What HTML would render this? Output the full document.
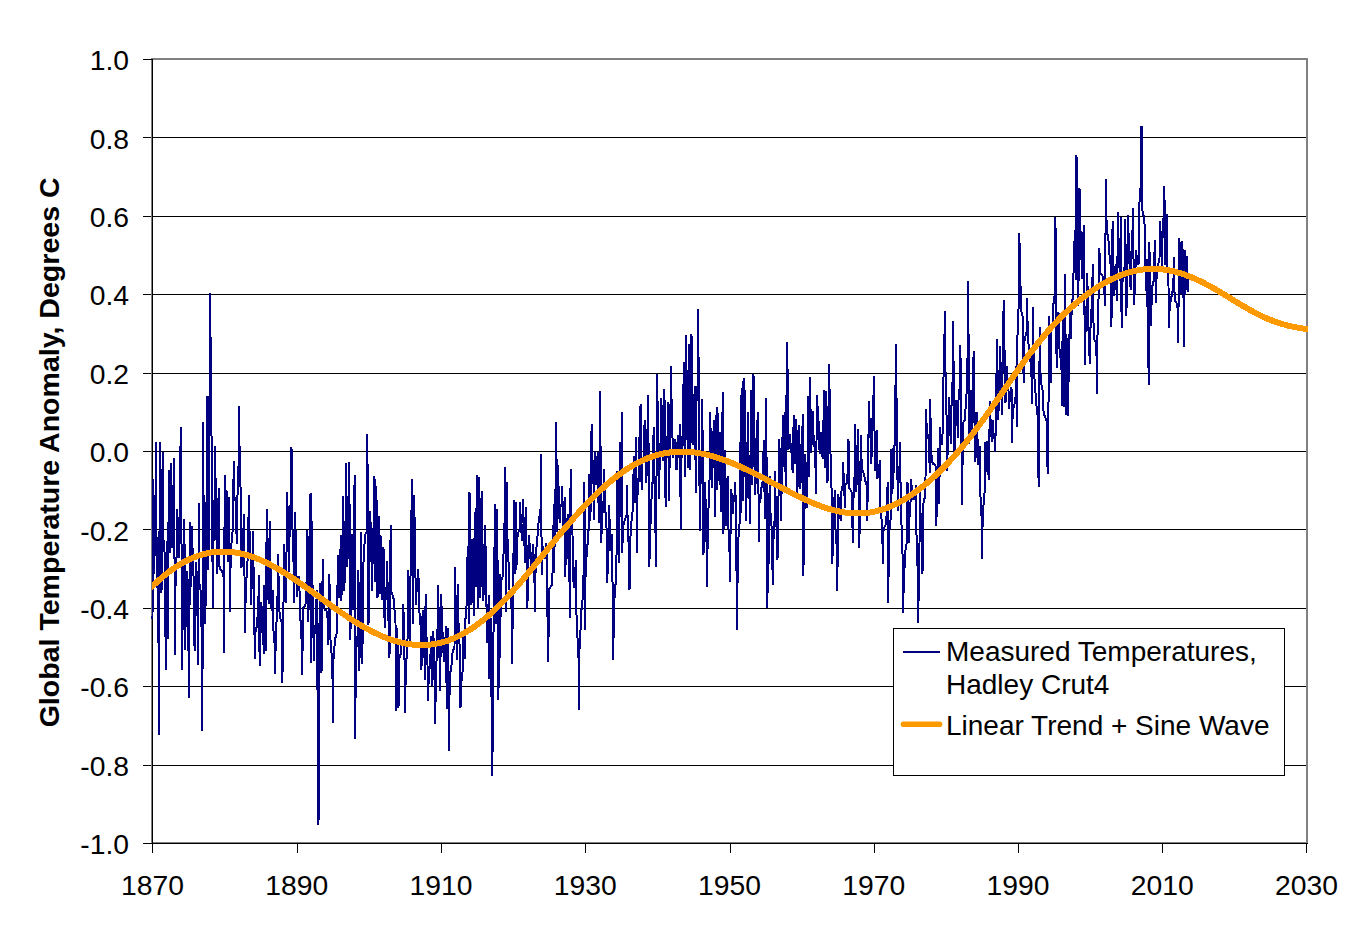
<!DOCTYPE html>
<html lang="en"><head><meta charset="utf-8"><title>Global Temperature Anomaly</title>
<style>
html,body{margin:0;padding:0;background:#fff;}
body{width:1362px;height:928px;overflow:hidden;}
svg{display:block;}
text{font-family:"Liberation Sans", Arial, Helvetica, sans-serif;fill:#000;}
</style></head><body>
<svg width="1362" height="928" viewBox="0 0 1362 928">
<rect width="1362" height="928" fill="#fff"/>
<g stroke="#000" stroke-width="1" shape-rendering="crispEdges"><line x1="143" x2="1306" y1="137.5" y2="137.5"/><line x1="143" x2="1306" y1="216.5" y2="216.5"/><line x1="143" x2="1306" y1="294.5" y2="294.5"/><line x1="143" x2="1306" y1="373.5" y2="373.5"/><line x1="143" x2="1306" y1="451.5" y2="451.5"/><line x1="143" x2="1306" y1="529.5" y2="529.5"/><line x1="143" x2="1306" y1="608.5" y2="608.5"/><line x1="143" x2="1306" y1="686.5" y2="686.5"/><line x1="143" x2="1306" y1="765.5" y2="765.5"/></g>
<rect x="152" y="59" width="1155" height="784" fill="none" stroke="#808080" stroke-width="2" shape-rendering="crispEdges"/>
<g stroke="#000" stroke-width="1" shape-rendering="crispEdges"><line x1="152.5" x2="152.5" y1="59" y2="844"/><line x1="143" x2="1308" y1="843.5" y2="843.5"/><line x1="143" x2="153" y1="59.5" y2="59.5"/><line x1="152.5" x2="152.5" y1="843" y2="853"/><line x1="297.5" x2="297.5" y1="843" y2="853"/><line x1="441.5" x2="441.5" y1="843" y2="853"/><line x1="585.5" x2="585.5" y1="843" y2="853"/><line x1="730.5" x2="730.5" y1="843" y2="853"/><line x1="874.5" x2="874.5" y1="843" y2="853"/><line x1="1018.5" x2="1018.5" y1="843" y2="853"/><line x1="1162.5" x2="1162.5" y1="843" y2="853"/><line x1="1306.5" x2="1306.5" y1="843" y2="853"/></g>
<clipPath id="pc"><rect x="152" y="40" width="1156" height="820"/></clipPath>
<path d="M152.5 618.8 L153.1 478.8 L153.7 515.7 L154.3 573.9 L154.9 522.7 L155.5 496.1 L156.1 442.5 L156.7 578.9 L157.3 582.9 L157.9 598.7 L158.5 643.2 L159.1 734.5 L159.7 442.5 L160.3 491.5 L160.9 526.6 L161.5 593.2 L162.1 509.5 L162.7 452.5 L163.3 539.2 L163.9 542.1 L164.5 552.0 L165.1 566.3 L165.7 670.0 L166.3 594.1 L166.9 541.4 L167.5 600.8 L168.1 638.8 L168.7 470.0 L169.3 502.1 L169.9 552.5 L170.5 508.7 L171.1 463.2 L171.8 500.1 L172.4 548.3 L173.0 519.8 L173.6 499.6 L174.2 458.0 L174.8 655.0 L175.4 593.4 L176.0 558.2 L176.6 557.9 L177.2 508.8 L177.8 526.4 L178.4 538.7 L179.0 557.5 L179.6 510.4 L180.2 466.5 L180.8 427.0 L181.4 516.0 L182.0 670.0 L182.6 623.7 L183.2 596.9 L183.8 587.2 L184.4 518.8 L185.0 650.0 L185.6 623.7 L186.2 596.0 L186.8 594.7 L187.4 570.6 L188.0 613.3 L188.6 658.3 L189.2 698.0 L189.8 522.5 L190.4 545.6 L191.0 587.1 L191.6 551.1 L192.2 526.2 L192.8 568.0 L193.4 568.3 L194.0 611.7 L194.6 651.2 L195.2 610.8 L195.8 592.3 L196.4 562.0 L197.0 610.8 L197.6 616.4 L198.2 664.5 L198.8 503.2 L199.4 584.5 L200.0 584.9 L200.6 591.3 L201.2 621.6 L201.8 632.2 L202.4 731.2 L203.0 422.0 L203.6 507.7 L204.2 528.6 L204.8 534.9 L205.4 623.8 L206.0 537.2 L206.6 496.4 L207.2 395.8 L207.8 458.6 L208.4 570.0 L209.0 469.0 L209.6 384.2 L210.2 293.0 L210.9 390.9 L211.5 435.8 L212.1 464.0 L212.7 607.7 L213.3 541.5 L213.9 540.4 L214.5 501.4 L215.1 446.2 L215.7 491.9 L216.3 520.6 L216.9 573.5 L217.5 543.1 L218.1 519.9 L218.7 488.2 L219.3 566.0 L219.9 567.7 L220.5 570.1 L221.1 570.3 L221.7 570.3 L222.3 572.1 L222.9 574.1 L223.5 576.4 L224.1 652.5 L224.7 475.0 L225.3 553.6 L225.9 528.7 L226.5 490.0 L227.1 523.7 L227.7 562.2 L228.3 529.9 L228.9 497.5 L229.5 547.4 L230.1 612.0 L230.7 550.2 L231.3 545.8 L231.9 538.1 L232.5 532.4 L233.1 522.7 L233.7 461.0 L234.3 496.0 L234.9 499.4 L235.5 500.4 L236.1 511.4 L236.7 544.1 L237.3 498.8 L237.9 487.0 L238.5 467.3 L239.1 406.0 L239.7 463.4 L240.3 480.4 L240.9 500.8 L241.5 568.4 L242.1 543.4 L242.7 540.4 L243.3 536.9 L243.9 513.8 L244.5 575.5 L245.1 632.5 L245.7 589.7 L246.3 581.1 L246.9 572.8 L247.5 561.2 L248.1 550.0 L248.8 495.0 L249.4 529.8 L250.0 535.7 L250.6 559.7 L251.2 604.9 L251.8 574.6 L252.4 558.8 L253.0 531.2 L253.6 572.6 L254.2 608.7 L254.8 658.8 L255.4 633.5 L256.0 627.7 L256.6 627.4 L257.2 619.8 L257.8 614.8 L258.4 601.1 L259.0 575.0 L259.6 665.5 L260.2 643.3 L260.8 624.2 L261.4 602.4 L262.0 621.8 L262.6 634.1 L263.2 634.6 L263.8 653.8 L264.4 585.2 L265.0 615.5 L265.6 651.2 L266.2 579.7 L266.8 508.8 L267.4 538.5 L268.0 574.5 L268.6 604.0 L269.2 556.7 L269.8 521.2 L270.4 558.1 L271.0 583.8 L271.6 611.2 L272.2 598.2 L272.8 590.0 L273.4 628.9 L274.0 641.0 L274.6 643.1 L275.2 673.8 L275.8 629.9 L276.4 623.7 L277.0 615.5 L277.6 593.1 L278.2 553.8 L278.8 595.3 L279.4 610.9 L280.0 616.7 L280.6 619.3 L281.2 621.1 L281.8 623.2 L282.4 683.0 L283.0 628.6 L283.6 596.8 L284.2 543.8 L284.8 571.6 L285.4 580.1 L286.0 603.1 L286.6 544.4 L287.2 492.0 L287.9 521.9 L288.5 546.4 L289.1 572.3 L289.7 521.5 L290.3 510.3 L290.9 496.3 L291.5 447.0 L292.1 507.0 L292.7 539.4 L293.3 541.2 L293.9 602.5 L294.5 564.4 L295.1 512.5 L295.7 538.1 L296.3 564.2 L296.9 596.5 L297.5 589.1 L298.1 587.9 L298.7 584.7 L299.3 576.2 L299.9 619.6 L300.5 620.4 L301.1 625.8 L301.7 644.7 L302.3 674.5 L302.9 608.1 L303.5 607.4 L304.1 607.4 L304.7 605.9 L305.3 605.8 L305.9 601.4 L306.5 582.9 L307.1 530.0 L307.7 580.1 L308.3 621.5 L308.9 573.0 L309.5 537.0 L310.1 493.8 L310.7 662.5 L311.3 493.0 L311.9 572.0 L312.5 585.9 L313.1 585.9 L313.7 661.2 L314.3 634.6 L314.9 632.3 L315.5 625.4 L316.1 620.2 L316.7 590.0 L317.3 671.0 L317.9 723.9 L318.5 825.0 L319.1 718.9 L319.7 582.9 L320.3 623.1 L320.9 641.2 L321.5 672.5 L322.1 632.0 L322.7 558.8 L323.3 597.2 L323.9 608.4 L324.5 609.1 L325.1 609.8 L325.8 610.0 L326.4 610.0 L327.0 616.6 L327.6 617.2 L328.2 645.0 L328.8 601.7 L329.4 574.5 L330.0 627.0 L330.6 641.9 L331.2 652.4 L331.8 654.1 L332.4 668.5 L333.0 723.2 L333.6 649.2 L334.2 648.7 L334.8 643.2 L335.4 637.9 L336.0 636.4 L336.6 633.7 L337.2 618.2 L337.8 555.0 L338.4 575.1 L339.0 598.0 L339.6 574.9 L340.2 564.4 L340.8 535.0 L341.4 601.2 L342.0 568.0 L342.6 536.3 L343.2 496.2 L343.8 554.4 L344.4 591.1 L345.0 549.2 L345.6 515.8 L346.2 463.2 L346.8 525.5 L347.4 567.0 L348.0 525.0 L348.6 511.7 L349.2 462.0 L349.8 541.6 L350.4 640.1 L351.0 582.7 L351.6 534.3 L352.2 565.3 L352.8 580.3 L353.4 610.0 L354.0 547.7 L354.6 475.0 L355.2 739.2 L355.8 661.3 L356.4 647.6 L357.0 642.1 L357.6 634.8 L358.2 570.0 L358.8 623.5 L359.4 671.2 L360.0 605.1 L360.6 578.2 L361.2 532.5 L361.8 600.8 L362.4 663.8 L363.0 565.6 L363.6 561.1 L364.2 551.2 L364.9 534.8 L365.5 533.8 L366.1 533.0 L366.7 532.9 L367.3 434.2 L367.9 521.7 L368.5 625.0 L369.1 578.1 L369.7 554.7 L370.3 511.2 L370.9 540.5 L371.5 559.1 L372.1 590.5 L372.7 551.6 L373.3 534.6 L373.9 516.9 L374.5 476.2 L375.1 581.5 L375.7 524.4 L376.3 486.2 L376.9 525.9 L377.5 598.4 L378.1 569.5 L378.7 516.2 L379.3 544.8 L379.9 594.0 L380.5 535.0 L381.1 564.8 L381.7 573.3 L382.3 600.3 L382.9 578.4 L383.5 547.5 L384.1 597.6 L384.7 627.5 L385.3 604.8 L385.9 590.3 L386.5 587.5 L387.1 561.5 L387.7 591.1 L388.3 619.3 L388.9 623.7 L389.5 657.5 L390.1 575.3 L390.7 525.0 L391.3 592.0 L391.9 593.3 L392.5 595.0 L393.1 598.0 L393.7 598.1 L394.3 605.8 L394.9 618.0 L395.5 622.5 L396.1 711.2 L396.7 659.5 L397.3 627.6 L397.9 666.0 L398.5 707.5 L399.1 660.0 L399.7 657.5 L400.3 654.2 L400.9 654.0 L401.5 643.7 L402.1 642.3 L402.8 640.9 L403.4 603.8 L404.0 641.9 L404.6 662.9 L405.2 713.0 L405.8 661.1 L406.4 660.5 L407.0 650.0 L407.6 637.0 L408.2 570.0 L408.8 594.8 L409.4 612.2 L410.0 644.5 L410.6 565.4 L411.2 545.1 L411.8 479.0 L412.4 547.0 L413.0 624.0 L413.6 566.7 L414.2 495.0 L414.8 538.0 L415.4 571.5 L416.0 605.3 L416.6 590.4 L417.2 587.4 L417.8 584.7 L418.4 568.8 L419.0 612.5 L419.6 612.8 L420.2 620.4 L420.8 628.9 L421.4 670.0 L422.0 648.9 L422.6 610.0 L423.2 638.1 L423.8 638.6 L424.4 653.4 L425.0 680.0 L425.6 593.8 L426.2 634.6 L426.8 639.5 L427.4 657.3 L428.0 701.2 L428.6 680.9 L429.2 677.6 L429.8 660.5 L430.4 658.2 L431.0 636.2 L431.6 657.7 L432.2 686.2 L432.8 664.1 L433.4 631.1 L434.0 667.1 L434.6 681.7 L435.2 724.2 L435.8 681.6 L436.4 667.5 L437.0 634.9 L437.6 628.5 L438.2 585.0 L438.8 627.7 L439.4 649.5 L440.0 691.2 L440.6 651.4 L441.2 593.8 L441.9 621.1 L442.5 632.6 L443.1 634.4 L443.7 661.7 L444.3 646.6 L444.9 640.3 L445.5 637.7 L446.1 626.2 L446.7 709.2 L447.3 680.8 L447.9 628.5 L448.5 702.9 L449.1 751.2 L449.7 672.2 L450.3 671.4 L450.9 671.0 L451.5 665.2 L452.1 655.8 L452.7 652.3 L453.3 650.3 L453.9 648.2 L454.5 647.2 L455.1 567.0 L455.7 606.6 L456.3 623.8 L456.9 659.6 L457.5 626.6 L458.1 583.8 L458.7 640.1 L459.3 641.4 L459.9 649.1 L460.5 708.2 L461.1 682.2 L461.7 679.7 L462.3 676.4 L462.9 665.4 L463.5 633.8 L464.1 649.0 L464.7 658.8 L465.3 618.3 L465.9 618.0 L466.5 606.5 L467.1 582.2 L467.7 546.2 L468.3 593.4 L468.9 624.3 L469.5 492.0 L470.1 526.6 L470.7 565.8 L471.3 605.0 L471.9 574.8 L472.5 538.8 L473.1 574.8 L473.7 615.7 L474.3 553.2 L474.9 512.5 L475.5 551.6 L476.1 587.2 L476.7 475.0 L477.3 546.1 L477.9 608.8 L478.5 547.5 L479.1 477.5 L479.8 548.7 L480.4 597.7 L481.0 544.2 L481.6 490.8 L482.2 538.5 L482.8 549.6 L483.4 600.7 L484.0 574.4 L484.6 560.1 L485.2 525.0 L485.8 565.0 L486.4 598.2 L487.0 642.8 L487.6 621.5 L488.2 614.0 L488.8 595.0 L489.4 678.8 L490.0 656.2 L490.6 618.3 L491.2 684.8 L491.8 708.2 L492.4 776.2 L493.0 657.1 L493.6 628.2 L494.2 595.8 L494.8 504.5 L495.4 579.1 L496.0 624.2 L496.6 557.9 L497.2 508.8 L497.8 608.1 L498.4 700.0 L499.0 643.3 L499.6 573.9 L500.2 657.5 L500.8 580.6 L501.4 579.5 L502.0 579.2 L502.6 576.5 L503.2 566.4 L503.8 543.0 L504.4 537.9 L505.0 467.5 L505.6 536.4 L506.2 612.4 L506.8 482.5 L507.4 539.4 L508.0 540.6 L508.6 565.3 L509.2 588.1 L509.8 592.4 L510.4 593.2 L511.0 606.7 L511.6 607.2 L512.2 663.8 L512.8 598.0 L513.4 566.5 L514.0 500.5 L514.6 532.3 L515.2 574.0 L515.8 502.5 L516.4 570.0 L517.0 543.1 L517.6 535.7 L518.2 532.9 L518.9 531.2 L519.5 529.3 L520.1 502.5 L520.7 518.5 L521.3 528.9 L521.9 541.0 L522.5 523.5 L523.1 498.8 L523.7 524.7 L524.3 536.1 L524.9 563.2 L525.5 542.7 L526.1 507.5 L526.7 561.1 L527.3 608.8 L527.9 585.5 L528.5 560.1 L529.1 534.8 L529.7 546.1 L530.3 550.3 L530.9 554.4 L531.5 571.7 L532.1 561.7 L532.7 554.0 L533.3 544.2 L533.9 571.8 L534.5 583.2 L535.1 612.0 L535.7 557.3 L536.3 548.2 L536.9 545.1 L537.5 536.3 L538.1 529.6 L538.7 519.9 L539.3 516.2 L539.9 515.6 L540.5 510.5 L541.1 453.8 L541.7 575.0 L542.3 561.6 L542.9 546.4 L543.5 550.4 L544.1 553.9 L544.7 558.8 L545.3 551.9 L545.9 549.0 L546.5 543.2 L547.1 599.8 L547.7 625.4 L548.3 662.0 L548.9 592.1 L549.5 588.6 L550.1 588.3 L550.7 586.5 L551.3 585.7 L551.9 584.9 L552.5 572.8 L553.1 572.0 L553.7 503.8 L554.3 572.5 L554.9 502.5 L555.5 490.6 L556.1 422.0 L556.8 485.5 L557.4 532.1 L558.0 465.0 L558.6 489.3 L559.2 500.9 L559.8 522.6 L560.4 507.6 L561.0 505.0 L561.6 503.5 L562.2 486.2 L562.8 517.8 L563.4 534.9 L564.0 521.3 L564.6 497.5 L565.2 577.0 L565.8 554.4 L566.4 554.4 L567.0 544.2 L567.6 513.9 L568.2 553.2 L568.8 563.5 L569.4 572.5 L570.0 618.0 L570.6 469.5 L571.2 511.9 L571.8 530.0 L572.4 531.7 L573.0 551.2 L573.6 587.5 L574.2 578.6 L574.8 577.4 L575.4 569.2 L576.0 559.8 L576.6 624.7 L577.2 636.5 L577.8 638.9 L578.4 646.2 L579.0 709.5 L579.6 638.6 L580.2 637.8 L580.8 622.8 L581.4 610.3 L582.0 605.8 L582.6 598.7 L583.2 585.4 L583.8 565.3 L584.4 482.5 L585.0 630.0 L585.6 569.4 L586.2 562.8 L586.8 551.6 L587.4 547.8 L588.0 531.5 L588.6 530.3 L589.2 473.8 L589.8 500.9 L590.4 521.4 L591.0 475.3 L591.6 424.5 L592.2 457.7 L592.8 470.7 L593.4 475.4 L594.0 520.0 L594.6 451.2 L595.2 465.1 L595.9 484.7 L596.5 469.5 L597.1 467.0 L597.7 452.0 L598.3 491.6 L598.9 523.3 L599.5 455.5 L600.1 391.2 L600.7 470.6 L601.3 542.5 L601.9 518.0 L602.5 512.7 L603.1 507.2 L603.7 498.8 L604.3 469.5 L604.9 505.4 L605.5 512.5 L606.1 514.9 L606.7 533.2 L607.3 583.0 L607.9 556.9 L608.5 539.4 L609.1 505.3 L609.7 524.8 L610.3 551.3 L610.9 544.0 L611.5 540.3 L612.1 534.0 L612.7 603.7 L613.3 660.0 L613.9 600.2 L614.5 597.9 L615.1 584.8 L615.7 584.8 L616.3 556.5 L616.9 553.4 L617.5 471.2 L618.1 503.8 L618.7 562.5 L619.3 518.2 L619.9 442.0 L620.5 481.3 L621.1 516.8 L621.7 412.5 L622.3 552.5 L622.9 525.8 L623.5 525.2 L624.1 523.7 L624.7 519.9 L625.3 518.5 L625.9 516.6 L626.5 515.3 L627.1 485.0 L627.7 528.5 L628.3 541.9 L628.9 542.4 L629.5 590.0 L630.1 543.5 L630.7 533.1 L631.3 523.9 L631.9 517.0 L632.5 512.3 L633.1 500.0 L633.8 456.2 L634.4 483.3 L635.0 502.7 L635.6 461.6 L636.2 437.5 L636.8 552.5 L637.4 495.2 L638.0 490.8 L638.6 476.2 L639.2 471.6 L639.8 406.2 L640.4 482.3 L641.0 404.5 L641.6 490.0 L642.2 465.7 L642.8 460.1 L643.4 458.9 L644.0 451.6 L644.6 420.0 L645.2 446.9 L645.8 461.1 L646.4 482.5 L647.0 450.0 L647.6 425.3 L648.2 395.5 L648.8 488.1 L649.4 567.0 L650.0 525.0 L650.6 523.5 L651.2 516.7 L651.8 484.5 L652.4 482.2 L653.0 482.1 L653.6 427.0 L654.2 478.9 L654.8 489.3 L655.4 525.0 L656.0 567.0 L656.6 461.6 L657.2 373.8 L657.8 425.2 L658.4 460.7 L659.0 499.1 L659.6 464.8 L660.2 451.9 L660.8 436.0 L661.4 398.0 L662.0 435.1 L662.6 461.1 L663.2 429.5 L663.8 421.5 L664.4 388.8 L665.0 447.0 L665.6 507.0 L666.2 465.2 L666.8 451.1 L667.4 445.1 L668.0 402.5 L668.6 442.7 L669.2 501.2 L669.8 437.8 L670.4 412.9 L671.0 366.2 L671.6 404.4 L672.2 422.1 L672.9 457.6 L673.5 448.7 L674.1 446.9 L674.7 445.0 L675.3 438.8 L675.9 457.6 L676.5 470.1 L677.1 456.5 L677.7 435.5 L678.3 443.9 L678.9 458.1 L679.5 443.1 L680.1 424.5 L680.7 529.5 L681.3 458.8 L681.9 455.3 L682.5 436.3 L683.1 435.8 L683.7 362.5 L684.3 428.9 L684.9 476.5 L685.5 388.8 L686.1 335.5 L686.7 385.3 L687.3 424.7 L687.9 468.3 L688.5 410.0 L689.1 343.8 L689.7 418.1 L690.3 469.6 L690.9 395.9 L691.5 334.5 L692.1 381.1 L692.7 398.8 L693.3 444.8 L693.9 420.4 L694.5 412.2 L695.1 386.2 L695.7 493.0 L696.3 404.8 L696.9 394.4 L697.5 387.8 L698.1 309.0 L698.7 378.6 L699.3 462.6 L699.9 530.5 L700.5 484.0 L701.1 468.8 L701.7 442.0 L702.3 399.5 L702.9 488.6 L703.5 555.0 L704.1 521.4 L704.7 513.3 L705.3 482.5 L705.9 530.0 L706.5 542.3 L707.1 587.0 L707.7 532.7 L708.3 520.4 L708.9 483.8 L709.5 482.2 L710.1 412.5 L710.8 439.9 L711.4 453.5 L712.0 488.3 L712.6 463.0 L713.2 441.8 L713.8 420.0 L714.4 456.7 L715.0 517.0 L715.6 415.0 L716.2 452.5 L716.8 490.0 L717.4 407.5 L718.0 438.6 L718.6 480.9 L719.2 459.8 L719.8 432.5 L720.4 478.3 L721.0 512.2 L721.6 455.2 L722.2 434.4 L722.8 392.5 L723.4 533.8 L724.0 507.7 L724.6 484.2 L725.2 450.0 L725.8 526.2 L726.4 504.4 L727.0 492.3 L727.6 476.0 L728.2 522.3 L728.8 535.6 L729.4 544.7 L730.0 582.0 L730.6 525.9 L731.2 488.6 L731.8 497.8 L732.4 502.7 L733.0 513.8 L733.6 500.3 L734.2 496.9 L734.8 493.7 L735.4 482.3 L736.0 551.8 L736.6 574.8 L737.2 630.0 L737.8 541.8 L738.4 539.7 L739.0 526.0 L739.6 523.4 L740.2 495.1 L740.8 395.0 L741.4 513.2 L742.0 430.9 L742.6 381.2 L743.2 501.4 L743.8 454.9 L744.4 378.2 L745.0 440.2 L745.6 456.1 L746.2 521.3 L746.8 478.0 L747.4 449.9 L748.0 412.5 L748.6 462.5 L749.2 477.7 L749.9 523.8 L750.5 458.4 L751.1 390.0 L751.7 426.7 L752.3 484.9 L752.9 436.4 L753.5 373.8 L754.1 421.0 L754.7 445.7 L755.3 494.6 L755.9 464.9 L756.5 442.8 L757.1 439.9 L757.7 412.5 L758.3 467.6 L758.9 542.0 L759.5 502.3 L760.1 502.1 L760.7 497.2 L761.3 487.9 L761.9 486.3 L762.5 482.3 L763.1 480.7 L763.7 440.0 L764.3 477.8 L764.9 518.6 L765.5 451.6 L766.1 398.2 L766.7 484.1 L767.3 608.0 L767.9 567.4 L768.5 565.6 L769.1 535.5 L769.7 476.2 L770.3 512.6 L770.9 513.7 L771.5 525.5 L772.1 535.0 L772.7 585.0 L773.3 548.3 L773.9 521.8 L774.5 521.6 L775.1 471.3 L775.7 507.8 L776.3 525.0 L776.9 529.3 L777.5 560.0 L778.1 506.7 L778.7 491.7 L779.3 438.8 L779.9 465.4 L780.5 493.2 L781.1 521.2 L781.7 481.6 L782.3 449.1 L782.9 415.0 L783.5 433.6 L784.1 466.9 L784.7 412.5 L785.3 462.5 L785.9 490.1 L786.5 396.5 L787.1 342.5 L787.8 388.7 L788.4 450.2 L789.0 442.8 L789.6 440.0 L790.2 433.8 L790.8 450.5 L791.4 451.8 L792.0 457.8 L792.6 472.5 L793.2 439.3 L793.8 415.0 L794.4 442.1 L795.0 463.7 L795.6 434.6 L796.2 418.8 L796.8 453.9 L797.4 494.2 L798.0 456.8 L798.6 425.0 L799.2 445.1 L799.8 468.4 L800.4 488.8 L801.0 460.4 L801.6 441.9 L802.2 439.7 L802.8 414.2 L803.4 576.2 L804.0 521.9 L804.6 507.4 L805.2 453.6 L805.8 472.7 L806.4 482.0 L807.0 507.5 L807.6 454.6 L808.2 396.2 L808.8 477.2 L809.4 432.0 L810.0 377.0 L810.6 414.6 L811.2 453.4 L811.8 437.7 L812.4 430.4 L813.0 411.2 L813.6 439.5 L814.2 445.4 L814.8 448.3 L815.4 462.5 L816.0 493.8 L816.6 432.0 L817.2 395.0 L817.8 415.8 L818.4 420.2 L819.0 427.0 L819.6 454.0 L820.2 445.2 L820.8 440.3 L821.4 432.5 L822.0 448.1 L822.6 459.0 L823.2 426.0 L823.8 414.7 L824.4 390.0 L825.0 467.5 L825.6 436.1 L826.2 391.2 L826.9 424.0 L827.5 482.7 L828.1 441.7 L828.7 415.1 L829.3 364.0 L829.9 434.5 L830.5 453.6 L831.1 470.4 L831.7 495.6 L832.3 563.8 L832.9 541.4 L833.5 519.0 L834.1 512.9 L834.7 489.6 L835.3 525.8 L835.9 536.0 L836.5 543.9 L837.1 591.2 L837.7 555.6 L838.3 493.8 L838.9 502.1 L839.5 502.7 L840.1 512.9 L840.7 521.2 L841.3 493.7 L841.9 487.2 L842.5 486.3 L843.1 462.5 L843.7 478.3 L844.3 490.2 L844.9 507.5 L845.5 484.9 L846.1 483.6 L846.7 483.0 L847.3 477.0 L847.9 470.2 L848.5 439.2 L849.1 487.7 L849.7 489.0 L850.3 489.5 L850.9 491.0 L851.5 491.9 L852.1 494.5 L852.7 542.5 L853.3 502.8 L853.9 489.8 L854.5 478.3 L855.1 424.5 L855.7 454.1 L856.3 491.8 L856.9 473.0 L857.5 457.5 L858.1 429.5 L858.7 475.4 L859.3 548.0 L859.9 510.1 L860.5 481.9 L861.1 435.5 L861.7 470.4 L862.3 470.6 L862.9 471.3 L863.5 472.6 L864.1 474.9 L864.8 479.1 L865.4 481.3 L866.0 481.4 L866.6 485.4 L867.2 521.2 L867.8 483.0 L868.4 441.6 L869.0 401.2 L869.6 420.9 L870.2 430.2 L870.8 444.1 L871.4 463.9 L872.0 429.8 L872.6 415.8 L873.2 415.2 L873.8 376.2 L874.4 421.9 L875.0 470.5 L875.6 455.6 L876.2 446.9 L876.8 430.0 L877.4 478.8 L878.0 472.0 L878.6 471.2 L879.2 467.7 L879.8 460.1 L880.4 506.8 L881.0 512.1 L881.6 520.6 L882.2 523.4 L882.8 564.2 L883.4 530.4 L884.0 529.8 L884.6 527.0 L885.2 525.9 L885.8 523.9 L886.4 516.0 L887.0 515.3 L887.6 482.5 L888.2 602.5 L888.8 553.5 L889.4 531.9 L890.0 523.1 L890.6 519.3 L891.2 448.8 L891.8 477.2 L892.4 494.0 L893.0 467.1 L893.6 445.0 L894.2 472.5 L894.8 421.5 L895.4 395.2 L896.0 344.5 L896.6 408.0 L897.2 445.8 L897.8 511.1 L898.4 482.2 L899.0 470.5 L899.6 465.8 L900.2 442.5 L900.8 518.8 L901.4 523.7 L902.0 531.6 L902.6 558.1 L903.2 613.0 L903.9 568.7 L904.5 567.9 L905.1 559.0 L905.7 546.7 L906.3 544.2 L906.9 543.1 L907.5 482.5 L908.1 505.9 L908.7 542.5 L909.3 522.7 L909.9 506.9 L910.5 503.1 L911.1 479.5 L911.7 487.1 L912.3 488.5 L912.9 491.9 L913.5 500.0 L914.1 494.5 L914.7 494.0 L915.3 492.1 L915.9 485.0 L916.5 534.9 L917.1 540.6 L917.7 575.9 L918.3 623.2 L918.9 559.7 L919.5 544.4 L920.1 490.3 L920.7 521.8 L921.3 526.0 L921.9 547.5 L922.5 573.8 L923.1 503.8 L923.7 502.7 L924.3 498.6 L924.9 498.5 L925.5 478.4 L926.1 408.8 L926.7 428.8 L927.3 431.7 L927.9 437.3 L928.5 438.5 L929.1 442.3 L929.7 472.5 L930.3 398.8 L930.9 453.4 L931.5 454.8 L932.1 461.9 L932.7 462.6 L933.3 464.3 L933.9 464.3 L934.5 464.6 L935.1 464.8 L935.7 467.0 L936.3 526.2 L936.9 498.9 L937.5 475.3 L938.1 448.3 L938.7 473.1 L939.3 503.8 L939.9 427.5 L940.5 434.2 L941.1 435.6 L941.8 438.9 L942.4 445.4 L943.0 387.7 L943.6 375.1 L944.2 359.9 L944.8 311.2 L945.4 372.1 L946.0 372.3 L946.6 422.5 L947.2 470.5 L947.8 440.1 L948.4 428.2 L949.0 397.5 L949.6 414.4 L950.2 426.4 L950.8 444.1 L951.4 405.1 L952.0 405.1 L952.6 378.0 L953.2 321.2 L953.8 399.1 L954.4 456.2 L955.0 436.4 L955.6 419.6 L956.2 400.0 L956.8 416.5 L957.4 423.5 L958.0 437.8 L958.6 393.8 L959.2 393.7 L959.8 385.2 L960.4 345.5 L961.0 411.0 L961.6 455.7 L962.2 504.5 L962.8 429.6 L963.4 422.7 L964.0 420.8 L964.6 420.4 L965.2 412.2 L965.8 406.3 L966.4 401.3 L967.0 364.2 L967.6 356.6 L968.2 281.2 L968.8 383.7 L969.4 443.8 L970.0 422.8 L970.6 389.8 L971.2 402.2 L971.8 411.8 L972.4 430.8 L973.0 391.7 L973.6 351.2 L974.2 403.4 L974.8 420.5 L975.4 462.0 L976.0 442.4 L976.6 432.2 L977.2 412.5 L977.8 465.0 L978.4 456.7 L979.0 452.9 L979.6 445.7 L980.2 485.1 L980.9 511.2 L981.5 515.4 L982.1 558.5 L982.7 512.6 L983.3 507.1 L983.9 502.2 L984.5 494.4 L985.1 442.5 L985.7 457.9 L986.3 472.2 L986.9 441.2 L987.5 453.7 L988.1 465.4 L988.7 480.0 L989.3 445.4 L989.9 401.2 L990.5 419.3 L991.1 427.0 L991.7 441.6 L992.3 432.8 L992.9 420.0 L993.5 432.9 L994.1 435.7 L994.7 440.0 L995.3 452.0 L995.9 408.0 L996.5 373.1 L997.1 338.8 L997.7 383.0 L998.3 420.2 L998.9 393.7 L999.5 374.8 L1000.1 346.2 L1000.7 369.0 L1001.3 390.8 L1001.9 415.0 L1002.5 374.5 L1003.1 337.5 L1003.7 300.0 L1004.3 342.2 L1004.9 363.5 L1005.5 402.8 L1006.1 381.3 L1006.7 366.2 L1007.3 379.6 L1007.9 389.8 L1008.5 390.1 L1009.1 408.6 L1009.7 399.2 L1010.3 396.3 L1010.9 395.4 L1011.5 387.5 L1012.1 443.0 L1012.7 409.1 L1013.3 407.8 L1013.9 407.3 L1014.5 404.1 L1015.1 401.4 L1015.7 395.0 L1016.3 366.2 L1016.9 427.0 L1017.5 335.3 L1018.1 312.1 L1018.8 307.5 L1019.4 233.2 L1020.0 283.9 L1020.6 286.0 L1021.2 310.7 L1021.8 313.4 L1022.4 313.8 L1023.0 324.1 L1023.6 383.0 L1024.2 343.8 L1024.8 338.2 L1025.4 336.7 L1026.0 333.2 L1026.6 332.4 L1027.2 298.2 L1027.8 342.8 L1028.4 343.0 L1029.0 349.8 L1029.6 358.2 L1030.2 359.7 L1030.8 364.8 L1031.4 369.7 L1032.0 403.8 L1032.6 341.8 L1033.2 307.0 L1033.8 378.2 L1034.4 378.5 L1035.0 382.2 L1035.6 395.1 L1036.2 401.1 L1036.8 410.1 L1037.4 412.3 L1038.0 426.3 L1038.6 487.0 L1039.2 400.7 L1039.8 327.5 L1040.4 371.9 L1041.0 377.8 L1041.6 386.1 L1042.2 387.3 L1042.8 392.0 L1043.4 410.2 L1044.0 415.5 L1044.6 415.8 L1045.2 416.8 L1045.8 419.7 L1046.4 419.7 L1047.0 425.0 L1047.6 473.8 L1048.2 415.5 L1048.8 389.2 L1049.4 315.8 L1050.0 354.8 L1050.6 383.2 L1051.2 330.3 L1051.8 329.6 L1052.4 327.4 L1053.0 306.3 L1053.6 303.0 L1054.2 297.0 L1054.8 296.4 L1055.4 217.0 L1056.0 274.7 L1056.6 368.1 L1057.2 347.9 L1057.9 337.0 L1058.5 312.5 L1059.1 346.6 L1059.7 349.7 L1060.3 356.5 L1060.9 360.7 L1061.5 370.0 L1062.1 406.2 L1062.7 312.9 L1063.3 366.4 L1063.9 406.9 L1064.5 343.2 L1065.1 274.5 L1065.7 361.0 L1066.3 415.0 L1066.9 337.9 L1067.5 367.3 L1068.1 415.5 L1068.7 367.5 L1069.3 349.8 L1069.9 304.6 L1070.5 326.5 L1071.1 338.8 L1071.7 305.5 L1072.3 299.8 L1072.9 298.5 L1073.5 272.9 L1074.1 266.1 L1074.7 230.0 L1075.3 258.4 L1075.9 279.5 L1076.5 155.0 L1077.1 206.6 L1077.7 250.7 L1078.3 306.1 L1078.9 237.5 L1079.5 188.0 L1080.1 218.7 L1080.7 236.5 L1081.3 250.3 L1081.9 278.5 L1082.5 261.2 L1083.1 246.8 L1083.7 225.0 L1084.3 288.0 L1084.9 365.0 L1085.5 333.2 L1086.1 315.4 L1086.7 301.3 L1087.3 273.3 L1087.9 309.1 L1088.5 331.2 L1089.1 335.9 L1089.7 363.8 L1090.3 327.9 L1090.9 326.8 L1091.5 309.5 L1092.1 306.7 L1092.7 263.8 L1093.3 319.5 L1093.9 329.2 L1094.5 340.1 L1095.1 341.5 L1095.8 342.2 L1096.4 347.4 L1097.0 394.0 L1097.6 324.6 L1098.2 301.2 L1098.8 296.7 L1099.4 248.0 L1100.0 270.1 L1100.6 273.1 L1101.2 273.8 L1101.8 274.7 L1102.4 275.1 L1103.0 281.5 L1103.6 281.8 L1104.2 282.7 L1104.8 305.6 L1105.4 246.6 L1106.0 179.5 L1106.6 226.8 L1107.2 234.4 L1107.8 234.4 L1108.4 238.9 L1109.0 251.5 L1109.6 255.6 L1110.2 263.0 L1110.8 263.3 L1111.4 327.2 L1112.0 277.5 L1112.6 221.2 L1113.2 259.2 L1113.8 295.8 L1114.4 285.7 L1115.0 277.0 L1115.6 263.9 L1116.2 277.6 L1116.8 301.1 L1117.4 266.2 L1118.0 212.5 L1118.6 242.3 L1119.2 253.7 L1119.8 280.7 L1120.4 242.8 L1121.0 217.5 L1121.6 328.2 L1122.2 282.0 L1122.8 280.8 L1123.4 278.3 L1124.0 276.1 L1124.6 265.3 L1125.2 218.8 L1125.8 265.1 L1126.4 316.4 L1127.0 272.9 L1127.6 254.0 L1128.2 215.0 L1128.8 248.6 L1129.4 263.2 L1130.0 266.6 L1130.6 290.0 L1131.2 262.3 L1131.8 240.6 L1132.4 234.8 L1133.0 208.2 L1133.6 267.7 L1134.2 305.2 L1134.9 283.4 L1135.5 267.8 L1136.1 250.0 L1136.7 256.7 L1137.3 257.2 L1137.9 257.9 L1138.5 265.2 L1139.1 203.1 L1139.7 201.6 L1140.3 196.5 L1140.9 172.7 L1141.5 125.8 L1142.1 201.6 L1142.7 215.1 L1143.3 215.4 L1143.9 216.1 L1144.5 224.2 L1145.1 229.7 L1145.7 290.5 L1146.3 279.0 L1146.9 259.1 L1147.5 306.7 L1148.1 329.5 L1148.7 384.9 L1149.3 242.5 L1149.9 269.0 L1150.5 293.9 L1151.1 326.1 L1151.7 295.9 L1152.3 286.0 L1152.9 284.2 L1153.5 280.9 L1154.1 279.7 L1154.7 240.0 L1155.3 270.0 L1155.9 303.4 L1156.5 278.5 L1157.1 275.6 L1157.7 270.3 L1158.3 263.6 L1158.9 262.1 L1159.5 258.3 L1160.1 221.2 L1160.7 235.7 L1161.3 249.6 L1161.9 269.2 L1162.5 238.7 L1163.1 219.6 L1163.7 218.2 L1164.3 186.2 L1164.9 226.9 L1165.5 265.2 L1166.1 242.9 L1166.7 213.8 L1167.3 267.0 L1167.9 279.7 L1168.5 285.7 L1169.1 328.2 L1169.7 303.5 L1170.3 303.0 L1170.9 300.5 L1171.5 296.5 L1172.1 294.1 L1172.8 289.7 L1173.4 282.9 L1174.0 257.5 L1174.6 298.1 L1175.2 301.3 L1175.8 302.1 L1176.4 302.8 L1177.0 303.7 L1177.6 308.9 L1178.2 343.3 L1178.8 274.9 L1179.4 238.0 L1180.0 257.6 L1180.6 272.5 L1181.2 294.2 L1181.8 269.2 L1182.4 241.2 L1183.0 285.4 L1183.6 300.7 L1184.2 346.6 L1184.8 250.0 L1185.4 275.7 L1186.0 290.2 L1186.6 275.4 L1187.2 256.2 L1187.8 292.0" fill="none" stroke="#000080" stroke-width="2" stroke-linejoin="bevel" shape-rendering="crispEdges"/>
<path d="M147.5 591.2 L150.0 588.7 L152.5 586.2 L155.0 583.8 L157.5 581.5 L160.0 579.2 L162.5 577.1 L165.0 575.0 L167.5 573.0 L170.0 571.1 L172.5 569.3 L175.0 567.5 L177.5 565.9 L180.0 564.4 L182.5 562.9 L185.0 561.5 L187.5 560.2 L190.0 559.1 L192.5 558.0 L195.0 556.9 L197.5 556.0 L200.0 555.2 L202.5 554.4 L205.0 553.8 L207.5 553.2 L210.0 552.7 L212.5 552.3 L215.0 552.0 L217.5 551.8 L220.0 551.6 L222.5 551.6 L225.0 551.6 L227.5 551.7 L230.0 551.9 L232.5 552.1 L235.0 552.5 L237.5 552.9 L240.0 553.4 L242.5 553.9 L245.0 554.6 L247.5 555.3 L250.0 556.1 L252.5 556.9 L255.0 557.8 L257.5 558.8 L260.0 559.8 L262.5 560.9 L265.0 562.1 L267.5 563.3 L270.0 564.6 L272.5 565.9 L275.0 567.2 L277.5 568.7 L280.0 570.1 L282.5 571.6 L285.0 573.2 L287.5 574.8 L290.0 576.4 L292.5 578.0 L295.0 579.7 L297.5 581.4 L300.0 583.1 L302.5 584.9 L305.0 586.7 L307.5 588.5 L310.0 590.3 L312.5 592.1 L315.0 593.9 L317.5 595.7 L320.0 597.5 L322.5 599.3 L325.0 601.2 L327.5 603.0 L330.0 604.8 L332.5 606.6 L335.0 608.3 L337.5 610.1 L340.0 611.8 L342.5 613.5 L345.0 615.2 L347.5 616.9 L350.0 618.6 L352.5 620.2 L355.0 621.7 L357.5 623.3 L360.0 624.8 L362.5 626.3 L365.0 627.7 L367.5 629.1 L370.0 630.4 L372.5 631.7 L375.0 632.9 L377.5 634.1 L380.0 635.3 L382.5 636.4 L385.0 637.4 L387.5 638.4 L390.0 639.3 L392.5 640.1 L395.0 640.9 L397.5 641.6 L400.0 642.3 L402.5 642.9 L405.0 643.4 L407.5 643.9 L410.0 644.3 L412.5 644.6 L415.0 644.8 L417.5 645.0 L420.0 645.1 L422.5 645.1 L425.0 645.0 L427.5 644.9 L430.0 644.6 L432.5 644.3 L435.0 643.9 L437.5 643.4 L440.0 642.9 L442.5 642.2 L445.0 641.5 L447.5 640.7 L450.0 639.8 L452.5 638.8 L455.0 637.8 L457.5 636.6 L460.0 635.4 L462.5 634.1 L465.0 632.7 L467.5 631.2 L470.0 629.6 L472.5 628.0 L475.0 626.2 L477.5 624.4 L480.0 622.5 L482.5 620.6 L485.0 618.5 L487.5 616.4 L490.0 614.2 L492.5 612.0 L495.0 609.6 L497.5 607.2 L500.0 604.7 L502.5 602.2 L505.0 599.6 L507.5 596.9 L510.0 594.2 L512.5 591.4 L515.0 588.6 L517.5 585.8 L520.0 582.9 L522.5 579.9 L525.0 576.9 L527.5 574.0 L530.0 570.9 L532.5 567.9 L535.0 564.8 L537.5 561.8 L540.0 558.7 L542.5 555.6 L545.0 552.5 L547.5 549.4 L550.0 546.4 L552.5 543.3 L555.0 540.2 L557.5 537.2 L560.0 534.2 L562.5 531.2 L565.0 528.2 L567.5 525.3 L570.0 522.4 L572.5 519.5 L575.0 516.6 L577.5 513.8 L580.0 511.0 L582.5 508.3 L585.0 505.6 L587.5 503.0 L590.0 500.4 L592.5 497.9 L595.0 495.4 L597.5 493.0 L600.0 490.6 L602.5 488.3 L605.0 486.0 L607.5 483.8 L610.0 481.7 L612.5 479.7 L615.0 477.7 L617.5 475.7 L620.0 473.9 L622.5 472.1 L625.0 470.4 L627.5 468.7 L630.0 467.2 L632.5 465.7 L635.0 464.3 L637.5 462.9 L640.0 461.7 L642.5 460.5 L645.0 459.4 L647.5 458.3 L650.0 457.4 L652.5 456.5 L655.0 455.7 L657.5 454.9 L660.0 454.3 L662.5 453.7 L665.0 453.2 L667.5 452.8 L670.0 452.4 L672.5 452.1 L675.0 451.9 L677.5 451.7 L680.0 451.7 L682.5 451.6 L685.0 451.7 L687.5 451.8 L690.0 452.0 L692.5 452.2 L695.0 452.5 L697.5 452.9 L700.0 453.3 L702.5 453.8 L705.0 454.3 L707.5 454.9 L710.0 455.5 L712.5 456.2 L715.0 457.0 L717.5 457.7 L720.0 458.6 L722.5 459.4 L725.0 460.3 L727.5 461.3 L730.0 462.3 L732.5 463.3 L735.0 464.3 L737.5 465.4 L740.0 466.5 L742.5 467.7 L745.0 468.9 L747.5 470.0 L750.0 471.3 L752.5 472.5 L755.0 473.8 L757.5 475.0 L760.0 476.3 L762.5 477.6 L765.0 478.9 L767.5 480.2 L770.0 481.6 L772.5 482.9 L775.0 484.2 L777.5 485.6 L780.0 486.9 L782.5 488.2 L785.0 489.5 L787.5 490.8 L790.0 492.1 L792.5 493.4 L795.0 494.7 L797.5 495.9 L800.0 497.1 L802.5 498.3 L805.0 499.5 L807.5 500.6 L810.0 501.7 L812.5 502.8 L815.0 503.9 L817.5 504.9 L820.0 505.8 L822.5 506.7 L825.0 507.6 L827.5 508.4 L830.0 509.2 L832.5 509.9 L835.0 510.5 L837.5 511.1 L840.0 511.7 L842.5 512.1 L845.0 512.5 L847.5 512.9 L850.0 513.1 L852.5 513.3 L855.0 513.4 L857.5 513.5 L860.0 513.4 L862.5 513.3 L865.0 513.1 L867.5 512.8 L870.0 512.5 L872.5 512.0 L875.0 511.5 L877.5 510.9 L880.0 510.2 L882.5 509.5 L885.0 508.6 L887.5 507.7 L890.0 506.7 L892.5 505.6 L895.0 504.4 L897.5 503.2 L900.0 501.9 L902.5 500.5 L905.0 499.0 L907.5 497.4 L910.0 495.8 L912.5 494.1 L915.0 492.4 L917.5 490.5 L920.0 488.6 L922.5 486.7 L925.0 484.6 L927.5 482.5 L930.0 480.4 L932.5 478.1 L935.0 475.9 L937.5 473.5 L940.0 471.1 L942.5 468.6 L945.0 466.1 L947.5 463.5 L950.0 460.8 L952.5 458.1 L955.0 455.3 L957.5 452.4 L960.0 449.5 L962.5 446.6 L965.0 443.5 L967.5 440.4 L970.0 437.3 L972.5 434.0 L975.0 430.8 L977.5 427.4 L980.0 424.1 L982.5 420.7 L985.0 417.2 L987.5 413.7 L990.0 410.2 L992.5 406.6 L995.0 403.0 L997.5 399.4 L1000.0 395.8 L1002.5 392.2 L1005.0 388.5 L1007.5 384.9 L1010.0 381.3 L1012.5 377.7 L1015.0 374.1 L1017.5 370.6 L1020.0 367.1 L1022.5 363.6 L1025.0 360.2 L1027.5 356.8 L1030.0 353.4 L1032.5 350.2 L1035.0 346.9 L1037.5 343.8 L1040.0 340.7 L1042.5 337.6 L1045.0 334.7 L1047.5 331.8 L1050.0 328.9 L1052.5 326.1 L1055.0 323.4 L1057.5 320.8 L1060.0 318.2 L1062.5 315.7 L1065.0 313.2 L1067.5 310.9 L1070.0 308.5 L1072.5 306.3 L1075.0 304.1 L1077.5 302.0 L1080.0 299.9 L1082.5 297.9 L1085.0 295.9 L1087.5 294.1 L1090.0 292.2 L1092.5 290.5 L1095.0 288.8 L1097.5 287.2 L1100.0 285.6 L1102.5 284.1 L1105.0 282.7 L1107.5 281.3 L1110.0 280.1 L1112.5 278.8 L1115.0 277.7 L1117.5 276.6 L1120.0 275.5 L1122.5 274.6 L1125.0 273.7 L1127.5 272.9 L1130.0 272.2 L1132.5 271.5 L1135.0 270.9 L1137.5 270.4 L1140.0 270.0 L1142.5 269.6 L1145.0 269.3 L1147.5 269.1 L1150.0 269.0 L1152.5 268.9 L1155.0 268.9 L1157.5 269.0 L1160.0 269.2 L1162.5 269.4 L1165.0 269.7 L1167.5 270.1 L1170.0 270.6 L1172.5 271.1 L1175.0 271.7 L1177.5 272.4 L1180.0 273.1 L1182.5 273.9 L1185.0 274.8 L1187.5 275.7 L1190.0 276.7 L1192.5 277.7 L1195.0 278.8 L1197.5 279.9 L1200.0 281.1 L1202.5 282.3 L1205.0 283.6 L1207.5 284.9 L1210.0 286.3 L1212.5 287.7 L1215.0 289.1 L1217.5 290.5 L1220.0 292.0 L1222.5 293.5 L1225.0 295.0 L1227.5 296.5 L1230.0 298.0 L1232.5 299.6 L1235.0 301.1 L1237.5 302.6 L1240.0 304.1 L1242.5 305.6 L1245.0 307.1 L1247.5 308.5 L1250.0 309.9 L1252.5 311.3 L1255.0 312.7 L1257.5 314.0 L1260.0 315.2 L1262.5 316.4 L1265.0 317.6 L1267.5 318.7 L1270.0 319.7 L1272.5 320.7 L1275.0 321.6 L1277.5 322.5 L1280.0 323.3 L1282.5 324.1 L1285.0 324.8 L1287.5 325.5 L1290.0 326.1 L1292.5 326.6 L1295.0 327.1 L1297.5 327.6 L1300.0 328.0 L1302.5 328.4 L1305.0 328.8 L1307.5 329.2 L1310.0 329.5 L1312.5 329.9" clip-path="url(#pc)" fill="none" stroke="#ff9900" stroke-width="6" stroke-linejoin="round" stroke-linecap="butt" shape-rendering="crispEdges"/>
<g font-size="28.3"><text x="129" y="70.1" text-anchor="end">1.0</text><text x="129" y="148.5" text-anchor="end">0.8</text><text x="129" y="226.9" text-anchor="end">0.6</text><text x="129" y="305.3" text-anchor="end">0.4</text><text x="129" y="383.7" text-anchor="end">0.2</text><text x="129" y="462.1" text-anchor="end">0.0</text><text x="129" y="540.5" text-anchor="end">-0.2</text><text x="129" y="618.9" text-anchor="end">-0.4</text><text x="129" y="697.3" text-anchor="end">-0.6</text><text x="129" y="775.7" text-anchor="end">-0.8</text><text x="129" y="854.1" text-anchor="end">-1.0</text><text x="152.5" y="894.5" text-anchor="middle">1870</text><text x="296.8" y="894.5" text-anchor="middle">1890</text><text x="441.0" y="894.5" text-anchor="middle">1910</text><text x="585.2" y="894.5" text-anchor="middle">1930</text><text x="729.5" y="894.5" text-anchor="middle">1950</text><text x="873.8" y="894.5" text-anchor="middle">1970</text><text x="1018.0" y="894.5" text-anchor="middle">1990</text><text x="1162.2" y="894.5" text-anchor="middle">2010</text><text x="1306.5" y="894.5" text-anchor="middle">2030</text></g>
<text transform="translate(58.6 452.4) rotate(-90)" text-anchor="middle" font-size="28.55" font-weight="bold">Global Temperature Anomaly, Degrees C</text>
<g>
<rect x="893.5" y="628.5" width="391" height="147" fill="#fff" stroke="#000" stroke-width="1" shape-rendering="crispEdges"/>
<line x1="903" x2="940" y1="652" y2="652" stroke="#000080" stroke-width="2" shape-rendering="crispEdges"/>
<line x1="903.5" x2="939.5" y1="724.2" y2="724.2" stroke="#ff9900" stroke-width="5.6" stroke-linecap="round"/>
<g font-size="28">
<text x="946" y="661">Measured Temperatures,</text>
<text x="946" y="694">Hadley Crut4</text>
<text x="946" y="735">Linear Trend + Sine Wave</text>
</g></g>
</svg></body></html>
